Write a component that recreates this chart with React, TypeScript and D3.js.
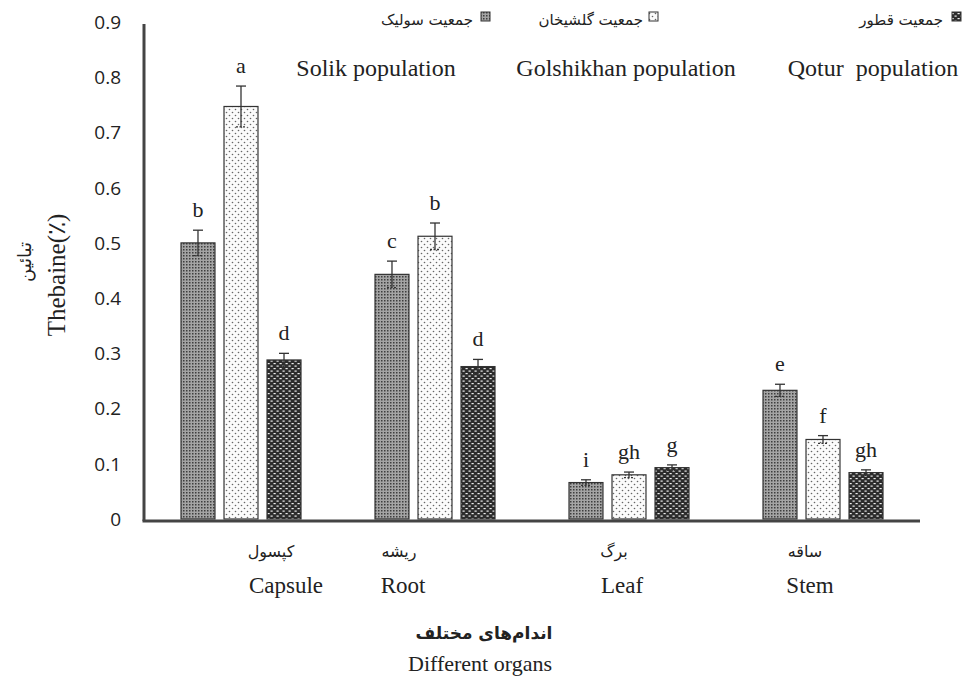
import { useRef, useEffect } from "react";
import * as d3 from "d3";

// organs (x categories)
const organsFa = ["کپسول", "ریشه", "برگ", "ساقه"];
const organsEn = ["Capsule", "Root", "Leaf", "Stem"];

// populations (series)
const seriesEn = ["Solik population", "Golshikhan population", "Qotur  population"];
const seriesFa = ["جمعیت سولیک", "جمعیت گلشیخان", "جمعیت قطور"];

// thebaine % per organ for each population
const solik = [0.5, 0.443, 0.066, 0.233];
const golshikhan = [0.747, 0.512, 0.08, 0.144];
const qotur = [0.288, 0.276, 0.093, 0.084];

// standard errors
const solikErr = [0.023, 0.024, 0.005, 0.011];
const golshikhanErr = [0.037, 0.024, 0.005, 0.007];
const qoturErr = [0.012, 0.013, 0.005, 0.005];

// Duncan letters
const solikLetters = ["b", "c", "i", "e"];
const golshikhanLetters = ["a", "b", "gh", "f"];
const qoturLetters = ["d", "d", "g", "gh"];

const yTicks = [0, 0.1, 0.2, 0.3, 0.4, 0.5, 0.6, 0.7, 0.8, 0.9];

// small nudges so category labels sit where the original has them
const labelNudgeEn = [45, -32, -7, -13];
const labelNudgeFa = [30, -36, -15, -18];

const SERIF = "'Liberation Serif', 'Times New Roman', serif";
const SANS = "'Open Sans', 'Liberation Sans', sans-serif";
const FA = "'DejaVu Sans', sans-serif";

export default function App() {
  const svgRef = useRef<SVGSVGElement>(null);

  useEffect(() => {
    const width = 971;
    const height = 679;
    const svg = d3.select(svgRef.current).attr("width", width).attr("height", height);
    svg.selectAll("*").remove();

    const values = [solik, golshikhan, qotur];
    const errs = [solikErr, golshikhanErr, qoturErr];
    const letters = [solikLetters, golshikhanLetters, qoturLetters];
    const patIds = ["pSolik", "pGol", "pQotur"];

    // patterns
    const defs = svg.append("defs");
    const p1 = defs.append("pattern").attr("id", "pSolik").attr("width", 3).attr("height", 3)
      .attr("patternUnits", "userSpaceOnUse");
    p1.append("rect").attr("width", 3).attr("height", 3).attr("fill", "#a4a4a4");
    p1.append("rect").attr("width", 1.5).attr("height", 1.5).attr("fill", "#3e3e3e");

    const p2 = defs.append("pattern").attr("id", "pGol").attr("width", 6).attr("height", 6)
      .attr("patternUnits", "userSpaceOnUse");
    p2.append("rect").attr("width", 6).attr("height", 6).attr("fill", "#fbfbfb");
    p2.append("circle").attr("cx", 1.5).attr("cy", 1.5).attr("r", 0.8).attr("fill", "#666");
    p2.append("circle").attr("cx", 4.5).attr("cy", 4.5).attr("r", 0.8).attr("fill", "#666");

    const p3 = defs.append("pattern").attr("id", "pQotur").attr("width", 6).attr("height", 5)
      .attr("patternUnits", "userSpaceOnUse");
    p3.append("rect").attr("width", 6).attr("height", 5).attr("fill", "#2c2c2c");
    p3.append("rect").attr("x", 0.5).attr("y", 0.5).attr("width", 2.2).attr("height", 1.2).attr("fill", "#eee");
    p3.append("rect").attr("x", 3.5).attr("y", 3).attr("width", 2.2).attr("height", 1.2).attr("fill", "#eee");

    // scales
    const y = d3.scaleLinear().domain([0, 0.9]).range([519, 22]);
    const x = d3.scaleBand<number>().domain(d3.range(organsEn.length)).range([144, 920]).padding(0);
    const groupW = 120;
    const xs = d3.scaleBand<number>().domain(d3.range(3))
      .range([(x.bandwidth() - groupW) / 2, (x.bandwidth() + groupW) / 2])
      .paddingInner(0.21).paddingOuter(0);

    // y tick labels
    svg.append("g").selectAll("text").data(yTicks).join("text")
      .attr("x", 121).attr("y", (d) => y(d)).attr("dy", "0.36em")
      .attr("text-anchor", "end").attr("font-family", SANS).attr("font-size", 19).attr("fill", "#222")
      .text((d) => (d === 0 ? "0" : d3.format(".1f")(d)));

    // bars
    const gBars = svg.append("g");
    values.forEach((vals, s) => {
      const g = gBars.append("g");
      g.selectAll("rect").data(vals).join("rect")
        .attr("x", (_, i) => x(i)! + xs(s)!)
        .attr("y", (d) => y(d))
        .attr("width", xs.bandwidth())
        .attr("height", (d) => y(0) - y(d))
        .attr("fill", `url(#${patIds[s]})`)
        .attr("stroke", "#333").attr("stroke-width", 1.2);

      // error bars
      vals.forEach((v, i) => {
        const cx = x(i)! + xs(s)! + xs.bandwidth() / 2;
        const e = errs[s][i];
        const eg = g.append("g").attr("stroke", "#333").attr("stroke-width", 1.3);
        eg.append("line").attr("x1", cx).attr("x2", cx).attr("y1", y(v - e)).attr("y2", y(v + e));
        eg.append("line").attr("x1", cx - 5).attr("x2", cx + 5).attr("y1", y(v + e)).attr("y2", y(v + e));
        eg.append("line").attr("x1", cx - 5).attr("x2", cx + 5).attr("y1", y(v - e)).attr("y2", y(v - e))
          .attr("stroke-dasharray", "2,1.5");
        g.append("text").attr("x", cx).attr("y", y(v + e) - 13)
          .attr("text-anchor", "middle").attr("font-family", SERIF).attr("font-size", 22).attr("fill", "#222")
          .text(letters[s][i]);
      });
    });

    // axes lines
    svg.append("line").attr("x1", 144).attr("x2", 144).attr("y1", y(0.9) + 2).attr("y2", y(0) + 2)
      .attr("stroke", "#444").attr("stroke-width", 3);
    svg.append("line").attr("x1", 142.5).attr("x2", 920).attr("y1", y(0) + 2).attr("y2", y(0) + 2)
      .attr("stroke", "#444").attr("stroke-width", 3);

    // category labels
    svg.append("g").selectAll("text").data(organsFa).join("text")
      .attr("x", (_, i) => x(i)! + x.bandwidth() / 2 + labelNudgeFa[i]).attr("y", 557)
      .attr("text-anchor", "middle").attr("font-family", FA).attr("font-size", 16).attr("fill", "#222")
      .text((d) => d);
    svg.append("g").selectAll("text").data(organsEn).join("text")
      .attr("x", (_, i) => x(i)! + x.bandwidth() / 2 + labelNudgeEn[i]).attr("y", 593)
      .attr("text-anchor", "middle").attr("font-family", SERIF).attr("font-size", 23).attr("fill", "#222")
      .text((d) => d);

    // axis titles
    svg.append("text").attr("x", 484).attr("y", 639).attr("text-anchor", "middle")
      .attr("font-family", FA).attr("font-size", 17).attr("font-weight", "bold").attr("fill", "#222")
      .text("اندام‌های مختلف");
    svg.append("text").attr("x", 480).attr("y", 671).attr("text-anchor", "middle")
      .attr("font-family", SERIF).attr("font-size", 22).attr("fill", "#222")
      .text("Different organs");

    svg.append("text").attr("transform", "translate(65,275) rotate(-90)").attr("text-anchor", "middle")
      .attr("font-family", SERIF).attr("font-size", 25).attr("fill", "#222")
      .text("Thebaine(٪)");
    svg.append("text").attr("transform", "translate(31,262) rotate(-90)").attr("text-anchor", "middle")
      .attr("font-family", FA).attr("font-size", 18).attr("fill", "#222")
      .text("تبائین");

    // legend
    const legEnX = [376, 626, 873];
    const legFaRight = [473, 643, 943];
    const legSwX = [481, 649, 952];
    const lg = svg.append("g");
    seriesEn.forEach((name, s) => {
      lg.append("text").attr("x", legEnX[s]).attr("y", 76).attr("text-anchor", "middle")
        .attr("font-family", SERIF).attr("font-size", 24).attr("fill", "#222")
        .attr("xml:space", "preserve").style("white-space", "pre").text(name);
      lg.append("text").attr("x", legFaRight[s]).attr("y", 25).attr("text-anchor", "end")
        .attr("font-family", FA).attr("font-size", 15).attr("fill", "#222").text(seriesFa[s]);
      lg.append("rect").attr("x", legSwX[s]).attr("y", 12).attr("width", 9).attr("height", 9)
        .attr("fill", `url(#${patIds[s]})`).attr("stroke", "#333").attr("stroke-width", 1);
    });
  }, []);

  return (
    <div>
      <svg ref={svgRef} style={{ position: "absolute", left: 0, top: 0, background: "#fff" }}></svg>
    </div>
  );
}
